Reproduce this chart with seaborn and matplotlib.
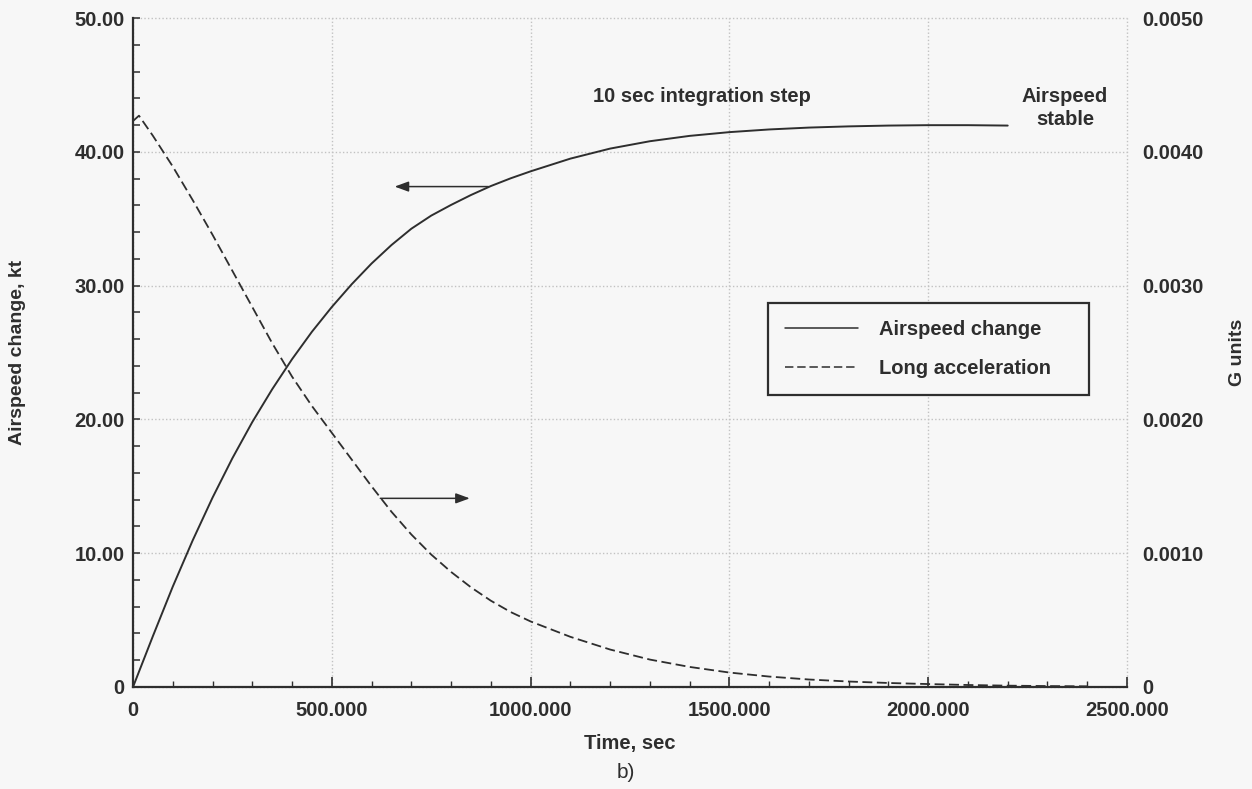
import matplotlib
matplotlib.use("Agg")
import matplotlib.pyplot as plt
import seaborn as sns
import pandas as pd
from matplotlib.ticker import MultipleLocator
from matplotlib.lines import Line2D

# ---- data -------------------------------------------------------------
time_airspeed = [0, 50, 100, 150, 200, 250, 300, 350, 400, 450, 500, 550,
                 600, 650, 700, 750, 800, 850, 900, 950, 1000, 1100, 1200,
                 1300, 1400, 1500, 1600, 1700, 1800, 1900, 2000, 2100, 2200]
airspeed_kt = [0.0, 3.8, 7.5, 10.95, 14.15, 17.1, 19.8, 22.25, 24.5, 26.55,
               28.4, 30.1, 31.65, 33.03, 34.25, 35.23, 36.03, 36.77, 37.44,
               38.02, 38.54, 39.49, 40.24, 40.79, 41.19, 41.47, 41.67, 41.81,
               41.9, 41.96, 41.99, 41.99, 41.96]

time_accel = [0, 15, 50, 100, 150, 200, 250, 300, 350, 400, 450, 500, 550,
              600, 650, 700, 750, 800, 850, 900, 950, 1000, 1100, 1200, 1300,
              1400, 1500, 1600, 1700, 1800, 1900, 2000, 2100, 2200, 2300, 2400]
accel_g = [0.00423, 0.00427, 0.00412, 0.00389, 0.00364, 0.00338, 0.00311,
           0.00284, 0.00257, 0.00232, 0.00210, 0.00190, 0.00170, 0.00150,
           0.00131, 0.00114, 0.00099, 0.00086, 0.000745, 0.000645, 0.00056,
           0.00049, 0.000375, 0.00028, 0.000205, 0.00015, 0.000108, 0.000078,
           0.000056, 0.000041, 0.00003, 0.000022, 0.000015, 0.00001, 0.000007,
           0.000005]

series_labels = ["Airspeed change", "Long acceleration"]

x_ticks = [0, 500, 1000, 1500, 2000, 2500]
x_tick_labels = ["0", "500.000", "1000.000", "1500.000", "2000.000", "2500.000"]
left_ticks = [0, 10, 20, 30, 40, 50]
left_tick_labels = ["0", "10.00", "20.00", "30.00", "40.00", "50.00"]
right_ticks = [0, 0.001, 0.002, 0.003, 0.004, 0.005]
right_tick_labels = ["0", "0.0010", "0.0020", "0.0030", "0.0040", "0.0050"]

# arrows pointing from each curve towards its own axis: (t_start, value, t_end)
airspeed_arrow = (894, 37.4, 658)
accel_arrow = (622, 0.00141, 847)

# ---- style ------------------------------------------------------------
bg = "#f7f7f7"
ink = "#2e2e2e"
grid_c = "#c2c2c2"
dash = (0, (5.5, 2.5))
fs = 14.5

sns.set_theme(style="white")
plt.rcParams["font.family"] = ["Liberation Sans", "DejaVu Sans"]
plt.rcParams["font.weight"] = "bold"
plt.rcParams["axes.labelweight"] = "bold"

air_df = pd.DataFrame({"t": time_airspeed, "v": airspeed_kt})
acc_df = pd.DataFrame({"t": time_accel, "g": accel_g})

W, H = 1252, 789
fig = plt.figure(figsize=(W / 100, H / 100), dpi=100, facecolor=bg)
L, R, T, B = 133, 1127, 18, 687
ax = fig.add_axes([L / W, 1 - B / H, (R - L) / W, (B - T) / H])
ax.set_facecolor(bg)

sns.lineplot(data=air_df, x="t", y="v", ax=ax, color=ink, lw=1.4,
             legend=False, zorder=3)

ax2 = ax.twinx()
sns.lineplot(data=acc_df, x="t", y="g", ax=ax2, color=ink, lw=1.3,
             linestyle=dash, legend=False, zorder=3)

ax.set_xlim(0, 2500)
ax.set_ylim(0, 50)
ax2.set_ylim(0, 0.005)

# ticks
ax.set_xticks(x_ticks, labels=x_tick_labels)
ax.set_yticks(left_ticks, labels=left_tick_labels)
ax2.set_yticks(right_ticks, labels=right_tick_labels)
ax.xaxis.set_minor_locator(MultipleLocator(100))
ax.yaxis.set_minor_locator(MultipleLocator(2))
ax.yaxis.tick_left()

ax.tick_params(axis="x", which="both", bottom=True, top=False)
ax.tick_params(axis="x", which="major", direction="in", length=7, width=1.2,
               color=ink, pad=10, labelsize=fs, labelcolor=ink)
ax.tick_params(axis="x", which="minor", direction="in", length=4.5,
               width=1.0, color=ink)
ax.tick_params(axis="y", which="both", left=True, right=False,
               direction="in", length=5, width=1.1,
               color=ink, pad=6, labelsize=fs, labelcolor=ink)
ax2.tick_params(axis="y", which="both", length=0, pad=11, labelsize=fs,
                labelcolor=ink)

# grid
ax.grid(True, which="major", color=grid_c, linestyle=(0, (1, 1.6)), lw=1.0)
ax.set_axisbelow(True)
for gl in ax.get_xgridlines() + ax.get_ygridlines():
    gl.set_clip_on(False)

# spines
for s in ["top", "right"]:
    ax.spines[s].set_visible(False)
for s in ["left", "bottom"]:
    ax.spines[s].set_color(ink)
    ax.spines[s].set_linewidth(1.6)
for s in ax2.spines.values():
    s.set_visible(False)

# axis labels
ax.set_xlabel("Time, sec", fontsize=fs, color=ink, fontweight="bold")
ax.xaxis.set_label_coords(0.5, (B - 743) / (B - T))
ax.xaxis.label.set_va("center")
ax.set_ylabel("Airspeed change, kt", fontsize=14, color=ink, fontweight="bold")
ax.yaxis.set_label_coords((18 - L) / (R - L), 0.5)
ax.yaxis.label.set_va("center")
ax2.set_ylabel("G units", fontsize=14, color=ink, fontweight="bold")
ax2.yaxis.set_label_coords((1237 - L) / (R - L), 0.5)
ax2.yaxis.label.set_va("center")

# annotations
ax.text(1432, 44.1, "10 sec integration step", ha="center", va="center",
        fontsize=fs, color=ink)
ax.text(2344, 43.3, "Airspeed\nstable", ha="center", va="center",
        fontsize=fs, color=ink, linespacing=1.25)

arrow_kw = dict(arrowstyle="-|>,head_length=0.6,head_width=0.22", color=ink,
                lw=1.1, shrinkA=0, shrinkB=0, mutation_scale=14)
ax.annotate("", xy=(airspeed_arrow[2], airspeed_arrow[1]),
            xytext=(airspeed_arrow[0], airspeed_arrow[1]), arrowprops=arrow_kw)
ax2.annotate("", xy=(accel_arrow[2], accel_arrow[1]),
             xytext=(accel_arrow[0], accel_arrow[1]), arrowprops=arrow_kw)

# legend
handles = [Line2D([], [], color=ink, lw=1.1),
           Line2D([], [], color=ink, lw=1.1, linestyle=dash)]
leg = ax2.legend(handles, series_labels, loc="upper left",
                 bbox_to_anchor=((768 - L) / (R - L), (B - 303) / (B - T),
                                 (1089 - 768) / (R - L), 0),
                 mode="expand", borderaxespad=0, borderpad=0.85,
                 labelspacing=1.0, handlelength=3.6, handletextpad=1.05,
                 fancybox=False, framealpha=1, prop={"size": fs})
leg.get_frame().set_edgecolor(ink)
leg.get_frame().set_linewidth(1.6)
leg.get_frame().set_facecolor(bg)
for txt in leg.get_texts():
    txt.set_color(ink)

fig.text(626 / W, 1 - 773 / H, "b)", ha="center", va="center", fontsize=15,
         fontweight="normal", color=ink)

fig.savefig("out.png", dpi=100, facecolor=bg)
